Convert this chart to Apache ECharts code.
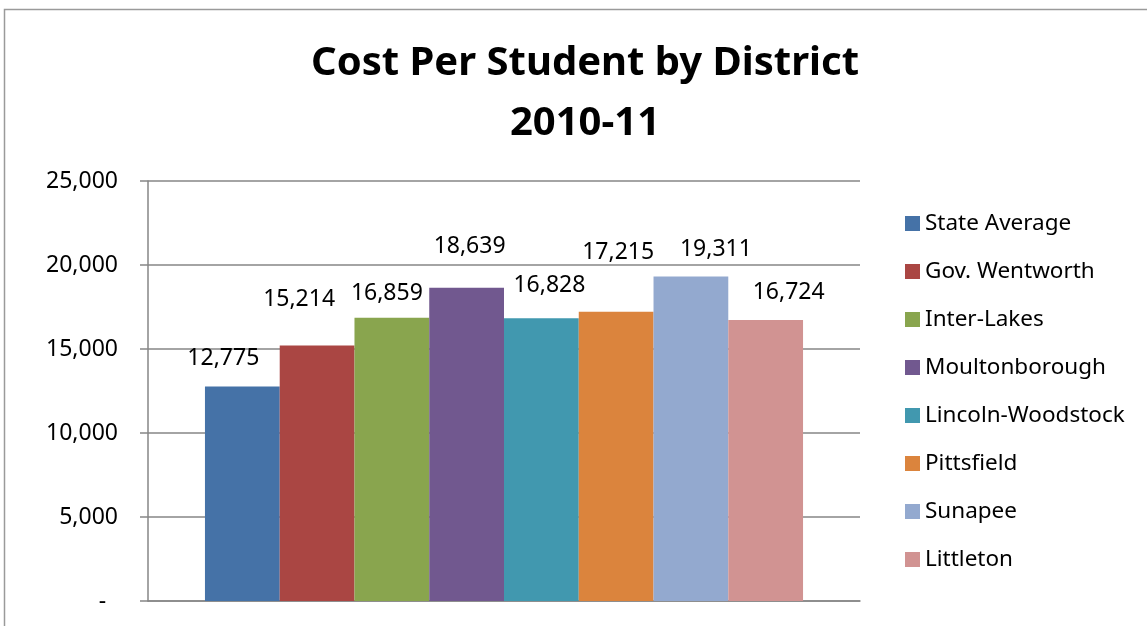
<!DOCTYPE html>
<html><head><meta charset="utf-8">
<script src="https://cdn.jsdelivr.net/npm/echarts@6/dist/echarts.min.js"></script>
<style>html,body{margin:0;padding:0;background:#fff}#c{width:1147px;height:626px}</style>
</head><body><div id="c"></div>
<script>
const districts = ['State Average','Gov. Wentworth','Inter-Lakes','Moultonborough','Lincoln-Woodstock','Pittsfield','Sunapee','Littleton'];
const costs = [12775, 15214, 16859, 18639, 16828, 17215, 19311, 16724];
const colors = ['#4572A7','#AA4643','#89A54E','#71588F','#4198AF','#DB843D','#93A9CF','#D19392'];
const yTicks = [0, 5000, 10000, 15000, 20000, 25000];
// styling: label nudges (px) as placed in the original
const labelNudge = [[-19,-16],[-18,-34],[-5,-13],[3,-30],[8,-21],[2,-48],[25,-16],[23,-16]];
const font = 'Noto Sans';
const fmt = v => v === 0 ? '-  ' : v.toLocaleString('en-US');
const chart = echarts.init(document.getElementById('c'));
chart.setOption({
  animation:false,
  graphic:[{type:'rect',shape:{x:4.5,y:9.5,width:1200,height:700},style:{fill:'none',stroke:'#9a9a9a',lineWidth:1.5},silent:true}],
  title:{text:'Cost Per Student by District\n2010-11',left:580,textAlign:'center',top:29,
    textStyle:{fontFamily:font,fontWeight:'bold',fontSize:40,lineHeight:60,color:'#000'}},
  legend:{orient:'vertical',left:900,top:207,itemWidth:15,itemHeight:15,itemGap:25,icon:'rect',
    textStyle:{fontFamily:font,fontSize:22.5,lineHeight:22,color:'#000'},data:districts},
  grid:{left:148,right:287,top:181,bottom:25,containLabel:false},
  xAxis:{type:'category',data:[''],axisTick:{show:false},axisLabel:{show:false},
    axisLine:{lineStyle:{color:'#868686',width:1.5}}},
  yAxis:{type:'value',min:yTicks[0],max:yTicks[yTicks.length-1],interval:5000,
    axisLine:{show:true,lineStyle:{color:'#868686',width:1.5}},
    axisTick:{show:true,length:8,lineStyle:{color:'#868686',width:1.5}},
    splitLine:{lineStyle:{color:'#868686',width:1.5}},
    axisLabel:{fontFamily:font,fontSize:23,color:'#000',margin:30,formatter:fmt}},
  series: districts.map((d,i)=>({
    name:d,type:'bar',data:[costs[i]],barGap:'0%',barCategoryGap:'16%',
    itemStyle:{color:colors[i]},
    label:{show:true,position:'top',distance:0,offset:labelNudge[i],fontFamily:font,fontSize:23,color:'#000',formatter:p=>fmt(p.value)}
  }))
});
</script></body></html>
